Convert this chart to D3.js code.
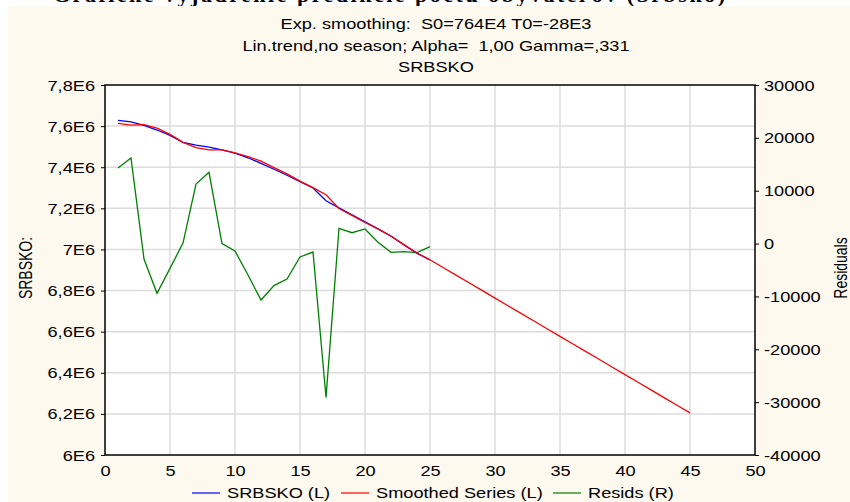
<!DOCTYPE html>
<html>
<head>
<meta charset="utf-8">
<script src="https://cdn.jsdelivr.net/npm/d3@7"></script>
<style>
  html, body { margin: 0; padding: 0; background: #ffffff; }
  svg { display: block; }
  text { font-family: "Liberation Sans", Arial, sans-serif; fill: #000; white-space: pre; }
</style>
</head>
<body>
<svg id="chart" width="850" height="502"></svg>
<script>
// Time index of the observed part of the series
const periods = [1,2,3,4,5,6,7,8,9,10,11,12,13,14,15,16,17,18,19,20,21,22,23,24,25];
// Forecast horizon of the smoothed series
const forecastPeriods = [26,27,28,29,30,31,32,33,34,35,36,37,38,39,40,41,42,43,44,45];

// Observed population, SRBSKO (left axis)
const srbsko = [7628000,7621000,7604000,7581000,7555000,7521000,7507000,7498000,7484000,7468000,
                7446000,7419000,7390000,7361000,7330000,7299000,7237000,7202000,7168000,7134000,
                7100000,7064000,7022000,6981000,6949000];
// One-step-ahead smoothed series (left axis)
const smoothed = [7613700,7604800,7606900,7590400,7559700,7520900,7495700,7484500,7484000,7469400,
                  7452000,7429700,7398000,7367700,7332500,7300600,7266100,7199100,7165900,7131200,
                  7099800,7065700,7023500,6982700,6949600];
// Forecast continuation of the smoothed series (left axis)
const forecast = [6912400,6875100,6837900,6800700,6763400,6726200,6689000,6651700,6614500,6577300,
                  6540000,6502800,6465600,6428300,6391100,6353900,6316600,6279400,6242200,6205000];
// Residuals (right axis)
const resids = [14300,16190,-2920,-9410,-4690,100,11270,13480,0,-1400,
                -5950,-10680,-7960,-6700,-2540,-1600,-29090,2880,2050,2760,
                240,-1650,-1540,-1720,-590];

// Axis ticks and labels
const xTicks = [0,5,10,15,20,25,30,35,40,45,50];
const leftTicks = [6000000,6200000,6400000,6600000,6800000,7000000,7200000,7400000,7600000,7800000];
const leftTickLabels = ["6E6","6,2E6","6,4E6","6,6E6","6,8E6","7E6","7,2E6","7,4E6","7,6E6","7,8E6"];
const rightTicks = [-40000,-30000,-20000,-10000,0,10000,20000,30000];

const titleLines = ["Exp. smoothing:  S0=764E4 T0=-28E3",
                    "Lin.trend,no season; Alpha=  1,00 Gamma=,331",
                    "SRBSKO"];
const legendItems = [
  {label: "SRBSKO (L)", color: "#0000ff"},
  {label: "Smoothed Series (L)", color: "#ff0000"},
  {label: "Resids (R)", color: "#008000"}
];

const SX = 1.3; // horizontal stretch of the lettering
const svg = d3.select("#chart");

// Heading of the page above the graph window
svg.append("text")
  .attr("x", 389).attr("y", 2)
  .attr("text-anchor", "middle")
  .attr("textLength", 672)
  .style("font-family", "'Liberation Serif', 'Times New Roman', serif")
  .style("font-weight", "bold")
  .style("font-size", "22px")
  .text("Grafické vyjadrenie predikcie počtu obyvateľov (Srbsko)");

// Graph window background
svg.append("rect")
  .attr("x", 8).attr("y", 6).attr("width", 842).attr("height", 496)
  .attr("fill", "#fdf9ee");

const plot = {left: 105, right: 755, top: 85, bottom: 455};

const x = d3.scaleLinear().domain([0, 50]).range([plot.left, plot.right]);
const yL = d3.scaleLinear().domain([6000000, 7800000]).range([plot.bottom, plot.top]);
const yR = d3.scaleLinear().domain([-40000, 30000]).range([plot.bottom, plot.top]);

// Plot area
svg.append("rect")
  .attr("x", plot.left).attr("y", plot.top)
  .attr("width", plot.right - plot.left).attr("height", plot.bottom - plot.top)
  .attr("fill", "#ffffff");

// Grid
const grid = svg.append("g").attr("stroke", "#dcdcdc").attr("stroke-width", 1.5);
grid.selectAll("line.v").data(xTicks.slice(1, -1)).join("line")
  .attr("x1", d => x(d)).attr("x2", d => x(d))
  .attr("y1", plot.top).attr("y2", plot.bottom);
grid.selectAll("line.h").data(leftTicks.slice(1, -1)).join("line")
  .attr("x1", plot.left).attr("x2", plot.right)
  .attr("y1", d => yL(d)).attr("y2", d => yL(d));

// Series
const lineL = d3.line().x(d => x(d[0])).y(d => yL(d[1]));
const lineR = d3.line().x(d => x(d[0])).y(d => yR(d[1]));

svg.append("path")
  .datum(periods.map((t, i) => [t, resids[i]]))
  .attr("fill", "none").attr("stroke", "#008000").attr("stroke-width", 1.3)
  .attr("d", lineR);

svg.append("path")
  .datum(periods.map((t, i) => [t, srbsko[i]]))
  .attr("fill", "none").attr("stroke", "#0000ff").attr("stroke-width", 1.3)
  .attr("d", lineL);

const smoothAll = periods.map((t, i) => [t, smoothed[i]])
  .concat(forecastPeriods.map((t, i) => [t, forecast[i]]));
svg.append("path")
  .datum(smoothAll)
  .attr("fill", "none").attr("stroke", "#ff0000").attr("stroke-width", 1.3)
  .attr("d", lineL);

// Frame
svg.append("rect")
  .attr("x", plot.left).attr("y", plot.top)
  .attr("width", plot.right - plot.left).attr("height", plot.bottom - plot.top)
  .attr("fill", "none").attr("stroke", "#000").attr("stroke-width", 1.5);

const fontPx = "14px";

// Left axis
const axL = svg.append("g").attr("transform", `translate(${plot.left},0)`)
  .call(d3.axisLeft(yL).tickValues(leftTicks).tickSize(4)
    .tickFormat((d, i) => leftTickLabels[i]));
axL.select(".domain").remove();
axL.selectAll("line").attr("stroke", "#000");
axL.selectAll("text")
  .attr("x", null).attr("dy", "0.36em")
  .attr("transform", `translate(-10,0) scale(${SX},1)`)
  .style("font-size", fontPx).attr("font-family", null);

// Right axis
const axR = svg.append("g").attr("transform", `translate(${plot.right},0)`)
  .call(d3.axisRight(yR).tickValues(rightTicks).tickSize(4).tickFormat(d3.format("d")));
axR.select(".domain").remove();
axR.selectAll("line").attr("stroke", "#000");
axR.selectAll("text")
  .attr("x", null).attr("dy", "0.36em")
  .attr("transform", `translate(9,0) scale(${SX},1)`)
  .text(d => d < 0 ? "-" + Math.abs(d) : String(d))
  .style("font-size", fontPx).attr("font-family", null);

// Bottom axis
const axB = svg.append("g").attr("transform", `translate(0,${plot.bottom})`)
  .call(d3.axisBottom(x).tickValues(xTicks).tickSize(0).tickFormat(d3.format("d")));
axB.select(".domain").remove();
axB.selectAll("text")
  .attr("y", null).attr("dy", null)
  .attr("transform", `translate(0,21) scale(${SX},1)`)
  .style("font-size", fontPx).attr("font-family", null);

// Titles
titleLines.forEach((s, i) => {
  svg.append("text")
    .attr("transform", `translate(436,${29 + i * 21.5}) scale(${SX},1)`)
    .attr("text-anchor", "middle")
    .style("font-size", fontPx)
    .text(s);
});

// Axis titles
svg.append("text")
  .attr("transform", `translate(32,268) rotate(-90) scale(1,${SX})`)
  .attr("text-anchor", "middle")
  .style("font-size", fontPx)
  .text("SRBSKO:");
svg.append("text")
  .attr("transform", `translate(847,268) rotate(-90) scale(1,${SX})`)
  .attr("text-anchor", "middle")
  .style("font-size", fontPx)
  .text("Residuals");

// Legend
const legendX = [192, 341, 553];
legendItems.forEach((item, i) => {
  const g = svg.append("g").attr("transform", `translate(${legendX[i]},493)`);
  g.append("line").attr("x1", 0).attr("x2", 28).attr("y1", 0).attr("y2", 0)
    .attr("stroke", item.color).attr("stroke-width", 1.2);
  g.append("text")
    .attr("transform", `translate(35,5) scale(${SX},1)`)
    .style("font-size", fontPx)
    .text(item.label);
});
</script>
</body>
</html>
